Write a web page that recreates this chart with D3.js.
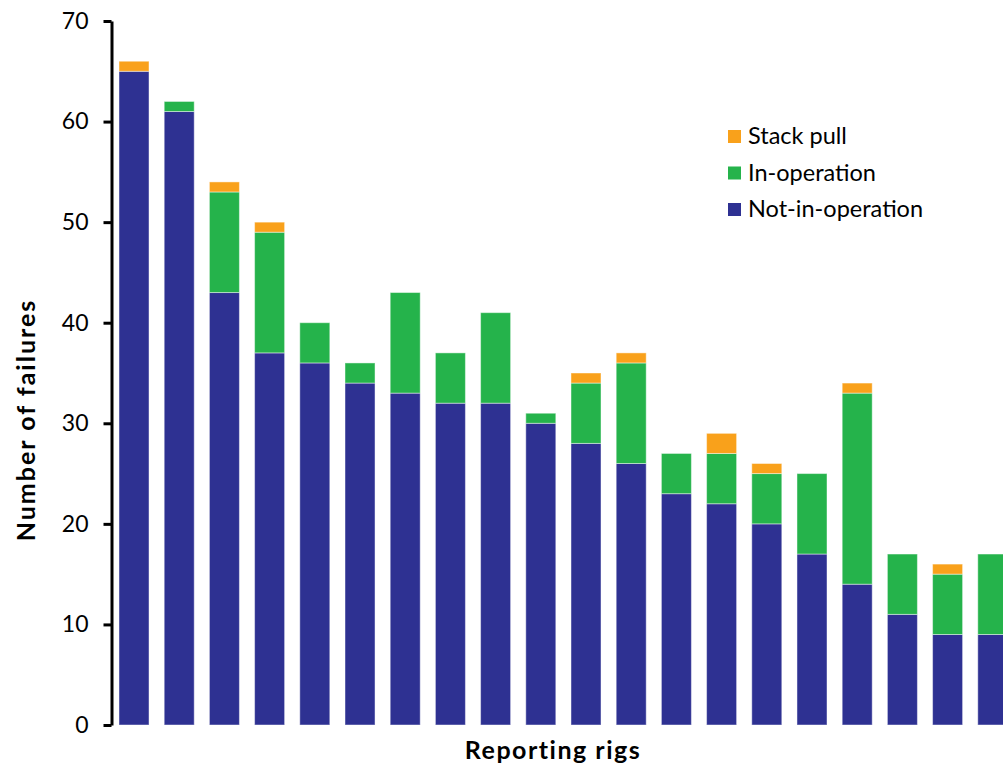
<!DOCTYPE html>
<html><head><meta charset="utf-8">
<script src="https://cdn.jsdelivr.net/npm/d3@7"></script>
<style>body{margin:0;background:#fff}svg{display:block}text{font-family:Lato,"Open Sans",sans-serif;fill:#000}</style>
</head><body><svg id="c" width="1003" height="768"></svg>
<script>
const rigs = d3.range(1, 21).map(i => "Rig " + i);
const notInOperation = [65,61,43,37,36,34,33,32,32,30,28,26,23,22,20,17,14,11,9,9];
const inOperation    = [0,1,10,12,4,2,10,5,9,1,6,10,4,5,5,8,19,6,6,8];
const stackPull      = [1,0,1,1,0,0,0,0,0,0,1,1,0,2,1,0,1,0,1,0];
const seriesNames = ["Not-in-operation","In-operation","Stack pull"];
const colors = ["#2E3192","#25B34B","#F9A11B"];
const yTicks = [0,10,20,30,40,50,60,70];

const svg = d3.select("#c");
const x = d3.scaleBand().domain(rigs).range([111.5, 1015.3]).paddingInner(0.336).paddingOuter(0.166);
const y = d3.scaleLinear().domain([0,70]).range([725, 21]);

const rows = rigs.map((r,i)=>({rig:r, "Not-in-operation":notInOperation[i], "In-operation":inOperation[i], "Stack pull":stackPull[i]}));
const stacked = d3.stack().keys(seriesNames)(rows);

svg.append("g").selectAll("g").data(stacked).join("g")
  .attr("fill",(d,i)=>colors[i])
  .selectAll("rect").data(d=>d.filter(s=>s[1]-s[0]>0)).join("rect")
  .attr("x",d=>x(d.data.rig)).attr("width",x.bandwidth())
  .attr("y",d=>y(d[1])).attr("height",d=>y(d[0])-y(d[1]))
  .attr("stroke","#ffffff").attr("stroke-opacity",0.45).attr("stroke-width",1);

const ax = svg.append("g").attr("transform","translate(111.5,0)")
  .call(d3.axisLeft(y).tickValues(yTicks).tickSize(8).tickPadding(15).tickSizeOuter(0));
ax.select(".domain").attr("stroke","#000").attr("stroke-width",3);
ax.selectAll(".tick line").attr("stroke","#000").attr("stroke-width",3);
ax.selectAll(".tick text").style("font-size","23px").style("font-family","Lato,sans-serif").attr("fill","#000");

svg.append("text").attr("transform","translate(35,420) rotate(-90)")
  .attr("text-anchor","middle").style("font-size","25px").style("font-weight","bold")
  .style("letter-spacing","2px").text("Number of failures");
svg.append("text").attr("x",553).attr("y",759)
  .attr("text-anchor","middle").style("font-size","25px").style("font-weight","bold")
  .style("letter-spacing","1.5px").text("Reporting rigs");

const legendOrder = [2,1,0];
const lg = svg.append("g").attr("transform","translate(728,130)");
legendOrder.forEach((k,j)=>{
  const g = lg.append("g").attr("transform",`translate(0,${j*36.5})`);
  g.append("rect").attr("width",13).attr("height",13).attr("fill",colors[k]);
  g.append("text").attr("x",20).attr("y",14).style("font-size","23.5px").text(seriesNames[k]);
});
</script></body></html>
